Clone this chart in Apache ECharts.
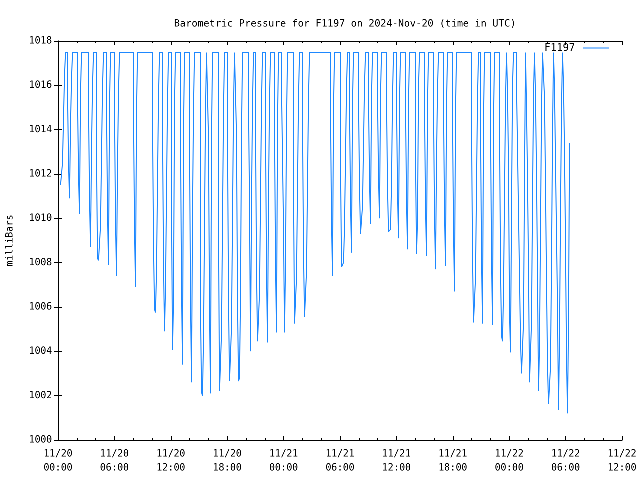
<!DOCTYPE html>
<html><head><meta charset="utf-8">
<script src="https://cdn.jsdelivr.net/npm/echarts@6/dist/echarts.min.js"></script>
<style>html,body{margin:0;padding:0;background:#fff}#c{width:640px;height:480px}</style>
</head><body><div id="c"></div>
<script>
const chartTitle = 'Barometric Pressure for F1197 on 2024-Nov-20 (time in UTC)';
const seriesName = 'F1197';
const TOP_LEVEL = 1017.48;          // cap level the trace returns to between dips
const SAMPLE_HOURS = 0.10638;       // spacing of samples inside a dip (hours)
// hours after 11/20 00:00 where each dip begins
const dipStart = [0.266, 1.011, 2.074, 3.245, 4.096, 5.160, 6.011, 8.032, 10.053, 11.117,
  12.074, 13.032, 13.989, 15.160, 16.011, 17.074, 18.032, 18.989, 20.266, 21.011,
  22.074, 23.032, 23.777, 25.053, 26.011, 28.989, 30.053, 31.011, 31.968, 33.032,
  33.989, 34.947, 36.011, 36.968, 38.032, 38.989, 39.947, 41.011, 41.968, 43.989,
  44.947, 46.011, 46.968, 47.819, 48.777, 49.840, 50.798, 51.755, 52.819, 53.777];
// successive sample values (mb) inside each dip
const dipLevels = [
  [1011.5, 1011.5, 1012.5, 1014.5, 1016.45],
  [1015.8, 1012.5, 1010.9, 1014.2, 1016.3],
  [1015.6, 1012.0, 1010.2, 1015.6],
  [1015.25, 1010.9, 1008.7, 1013.1, 1016.0],
  [1012.85, 1008.2, 1008.1, 1008.1, 1009.65, 1012.8, 1015.9],
  [1015.1, 1010.3, 1007.9, 1015.1],
  [1014.95, 1009.9, 1007.4, 1012.4, 1015.75],
  [1014.8, 1009.55, 1006.9, 1014.8],
  [1014.6, 1008.85, 1005.9, 1005.75, 1007.6, 1011.6, 1015.5],
  [1014.3, 1008.0, 1004.9, 1006.9, 1011.1, 1015.3],
  [1010.8, 1004.05, 1006.3, 1015.2],
  [1013.95, 1006.95, 1003.4, 1013.95],
  [1013.8, 1006.4, 1002.6, 1010.1, 1015.0],
  [1006.0, 1002.15, 1002.0, 1004.6, 1009.7, 1014.85],
  [1013.6, 1005.9, 1002.1, 1013.6],
  [1009.8, 1002.2, 1002.2, 1004.8, 1009.8, 1014.9],
  [1013.75, 1006.4, 1002.65, 1002.6, 1005.1, 1010.0, 1015.0],
  [1013.75, 1006.4, 1002.65, 1002.8, 1006.5, 1013.8],
  [1015.2, 1010.7, 1004.0, 1010.7, 1015.2],
  [1014.2, 1007.7, 1004.45, 1004.4, 1006.6, 1010.9, 1015.25],
  [1014.2, 1007.7, 1004.4, 1010.9, 1015.3],
  [1014.3, 1008.0, 1004.85, 1014.3],
  [1015.9, 1012.75, 1009.6, 1004.85, 1008.0, 1014.3],
  [1011.4, 1005.25, 1005.25, 1007.3, 1011.4, 1015.45],
  [1014.5, 1008.5, 1005.55, 1005.6, 1007.6, 1011.6, 1015.5],
  [1014.95, 1009.9, 1007.4, 1014.95],
  [1012.6, 1007.8, 1007.9, 1008.0, 1009.6, 1012.75, 1015.9],
  [1015.2, 1010.7, 1008.45, 1015.2],
  [1015.45, 1011.4, 1009.3, 1009.25, 1010.55, 1013.3, 1016.05],
  [1015.5, 1011.7, 1009.75, 1015.5],
  [1015.55, 1011.85, 1010.0, 1015.55],
  [1015.45, 1011.4, 1009.4, 1009.45, 1009.5, 1011.5, 1015.45],
  [1015.35, 1011.2, 1009.1, 1015.35],
  [1015.25, 1010.8, 1008.6, 1015.25],
  [1012.9, 1008.4, 1009.9, 1015.95],
  [1015.2, 1010.55, 1008.3, 1015.2],
  [1015.05, 1010.15, 1007.7, 1012.6, 1015.85],
  [1015.1, 1010.3, 1007.85, 1015.1],
  [1014.8, 1009.45, 1006.7, 1014.8],
  [1014.45, 1008.4, 1005.3, 1005.25, 1007.3, 1011.4, 1015.45],
  [1014.4, 1008.3, 1005.25, 1014.4],
  [1014.4, 1008.3, 1005.2, 1014.4],
  [1014.25, 1007.9, 1004.7, 1004.45, 1006.65, 1011.0, 1015.3],
  [1015.75, 1012.35, 1005.75, 1003.95, 1010.25, 1016.0],
  [1016.0, 1013.15, 1010.25, 1007.4, 1004.5, 1003.0, 1002.95, 1005.3, 1011.8],
  [1015.0, 1011.85, 1007.8, 1002.6, 1002.65, 1005.3, 1010.7, 1015.55],
  [1015.5, 1012.0, 1007.5, 1002.2, 1004.3, 1009.5, 1014.9],
  [1015.45, 1011.5, 1007.2, 1003.4, 1001.62, 1001.62, 1003.3, 1008.0, 1013.7],
  [1015.9, 1012.5, 1009.3, 1006.0, 1001.35, 1004.6, 1010.3, 1015.0],
  [1016.0, 1013.0, 1008.8, 1003.8, 1001.2, 1005.3, 1013.4]
];
const xTickLabels = ['11/20\n00:00', '11/20\n06:00', '11/20\n12:00', '11/20\n18:00',
  '11/21\n00:00', '11/21\n06:00', '11/21\n12:00', '11/21\n18:00',
  '11/22\n00:00', '11/22\n06:00', '11/22\n12:00'];
const yAxisName = 'milliBars';

// samples (time, value)
const samples = [];
dipStart.forEach((t0, i) => {
  const lv = dipLevels[i];
  lv.forEach((v, k) => samples.push([t0 + k * SAMPLE_HOURS, v]));
  if (i < dipStart.length - 1) samples.push([t0 + lv.length * SAMPLE_HOURS, TOP_LEVEL]);
});
// gnuplot "steps" rendering: hold each value until the next sample time
const data = [];
samples.forEach((p, i) => {
  if (i > 0) data.push([p[0], samples[i - 1][1]]);
  data.push(p);
});

const FONT = 'DejaVu Sans Mono';
const FS = 9.6;
const lineColor = '#1e88ff';
const axisLine = { show: true, lineStyle: { color: '#000', width: 1 } };

// high pixel ratio so 1-px step segments are not dropped by path simplification
const chart = echarts.init(document.getElementById('c'), null, { renderer: 'canvas', devicePixelRatio: 4 });
chart.setOption({
  animation: false,
  backgroundColor: '#fff',
  title: {
    text: chartTitle, left: 340, top: 14, textAlign: 'center',
    textStyle: { fontFamily: FONT, fontSize: FS + 0.2, fontWeight: 'normal', color: '#000' }
  },
  legend: {
    data: [seriesName], right: 31, top: 43, align: 'right', padding: 0,
    icon: 'rect', itemWidth: 26, itemHeight: 1,
    textStyle: { fontFamily: FONT, fontSize: FS + 0.6, color: '#000', padding: [0, 3, 0, 0] }
  },
  grid: { left: 58, right: 18, top: 41, bottom: 40, containLabel: false, outerBoundsMode: 'none' },
  xAxis: [{
    type: 'value', min: 0, max: 60, interval: 6, position: 'bottom',
    axisLine: axisLine,
    axisTick: { show: true, inside: true, length: 4, lineStyle: { color: '#000' } },
    minorTick: { show: true, splitNumber: 3, length: 2, lineStyle: { color: '#000' } },
    splitLine: { show: false },
    axisLabel: {
      fontFamily: FONT, fontSize: FS, color: '#000', margin: 7, lineHeight: 14,
      formatter: v => xTickLabels[Math.round(v / 6)]
    }
  }, {
    type: 'value', min: 0, max: 60, interval: 6, position: 'top',
    axisLine: axisLine,
    axisTick: { show: true, inside: true, length: 4, lineStyle: { color: '#000' } },
    minorTick: { show: true, splitNumber: 3, length: 2, lineStyle: { color: '#000' } },
    splitLine: { show: false }, axisLabel: { show: false }
  }],
  yAxis: [{
    type: 'value', min: 1000, max: 1018, interval: 2, position: 'left',
    name: yAxisName, nameLocation: 'middle', nameGap: 43, nameRotate: 90,
    nameTextStyle: { fontFamily: FONT, fontSize: FS, color: '#000' },
    axisLine: axisLine,
    axisTick: { show: true, inside: true, length: 4, lineStyle: { color: '#000' } },
    splitLine: { show: false },
    axisLabel: { fontFamily: FONT, fontSize: FS, color: '#000', margin: 6, formatter: v => String(v) }
  }, {
    type: 'value', min: 1000, max: 1018, interval: 2, position: 'right',
    axisLine: axisLine,
    axisTick: { show: true, inside: true, length: 4, lineStyle: { color: '#000' } },
    splitLine: { show: false }, axisLabel: { show: false }
  }],
  series: [{
    name: seriesName, type: 'line', data: data,
    xAxisIndex: 0, yAxisIndex: 0,
    showSymbol: false, symbol: 'none',
    lineStyle: { color: lineColor, width: 1 }, itemStyle: { color: lineColor }
  }]
});
</script></body></html>
